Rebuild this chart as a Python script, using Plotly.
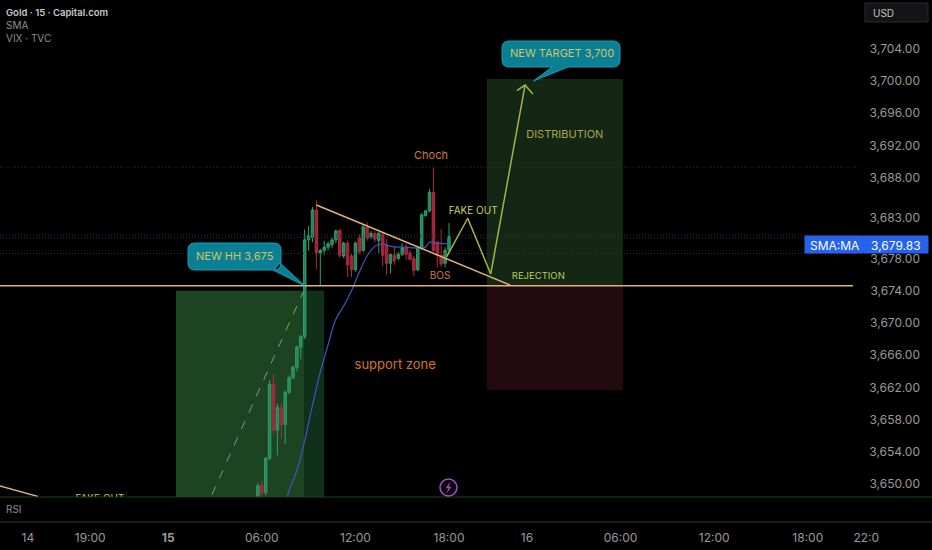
import plotly.graph_objects as go

W, H = 932, 550

# candles: bar number counted from the 15th 00:00 bar, 15 minutes each
bars = list(range(23, 73))
opens = [3647.5, 3649.9, 3649.0, 3653.2, 3662.4, 3656.7, 3659.5, 3657.4, 3661.4, 3663.2,
         3664.5, 3667.0, 3668.3, 3680.3, 3680.6, 3684.0, 3678.7, 3679.0, 3679.4, 3679.7,
         3680.3, 3681.5, 3678.3, 3679.9, 3678.3, 3676.6, 3680.5, 3679.0, 3681.9, 3680.7,
         3681.1, 3680.2, 3681.0, 3679.7, 3677.4, 3678.4, 3678.0, 3678.5, 3679.3, 3678.7,
         3678.0, 3676.6, 3679.3, 3683.3, 3683.9, 3686.2, 3680.0, 3678.4, 3677.4, 3679.05]
highs = [3650.2, 3650.4, 3653.4, 3662.9, 3663.7, 3660.0, 3660.0, 3661.6, 3663.5, 3664.7,
         3667.2, 3668.5, 3681.6, 3682.0, 3684.4, 3685.2, 3679.2, 3680.2, 3680.1, 3680.6,
         3681.6, 3681.6, 3680.1, 3680.2, 3678.6, 3680.1, 3681.0, 3682.2, 3682.5, 3681.4,
         3681.4, 3681.3, 3681.3, 3680.4, 3678.7, 3679.5, 3678.8, 3679.9, 3679.8, 3679.0,
         3678.3, 3679.5, 3683.6, 3684.0, 3686.6, 3689.2, 3680.2, 3681.65, 3679.4, 3682.4]
lows = [3647.0, 3648.0, 3648.6, 3653.0, 3656.1, 3653.6, 3655.7, 3655.0, 3661.2, 3663.0,
        3664.0, 3665.5, 3668.0, 3679.0, 3680.0, 3676.7, 3674.7, 3678.4, 3679.0, 3679.3,
        3679.9, 3678.1, 3678.0, 3675.7, 3675.7, 3676.3, 3678.5, 3678.8, 3680.2, 3680.4,
        3680.0, 3678.7, 3677.0, 3675.9, 3676.1, 3677.2, 3677.8, 3678.3, 3677.8, 3677.7,
        3675.8, 3676.4, 3679.0, 3683.2, 3683.7, 3678.8, 3676.9, 3676.9, 3676.9, 3678.6]
closes = [3649.8, 3648.9, 3653.2, 3662.4, 3656.7, 3659.5, 3657.4, 3661.4, 3663.2, 3664.5,
          3667.0, 3668.3, 3680.3, 3680.8, 3684.0, 3678.7, 3679.0, 3679.4, 3679.8, 3680.3,
          3681.4, 3678.4, 3679.9, 3677.2, 3676.6, 3679.9, 3678.8, 3681.9, 3680.5, 3681.1,
          3680.4, 3681.1, 3678.4, 3677.4, 3678.5, 3677.7, 3678.5, 3679.3, 3678.5, 3677.9,
          3676.5, 3679.3, 3683.4, 3683.9, 3686.2, 3679.0, 3678.4, 3677.3, 3679.0, 3680.7]

ma_bars = [29, 31, 33, 35, 37, 39, 41, 43, 45, 47, 49, 51, 53, 55, 57, 59, 61, 63, 65, 66, 67, 69, 72]
ma_vals = [3645.8, 3649.2, 3651.7, 3655.4, 3659.8, 3663.9, 3667.3, 3670.5, 3672.1, 3674.0, 3676.3, 3678.3,
           3679.5, 3679.8, 3679.5, 3679.4, 3679.4, 3679.3, 3679.3, 3679.4, 3680.0, 3679.9, 3679.8]

price_ticks = [3704, 3700, 3696, 3692, 3688, 3683, 3678, 3674, 3670, 3666, 3662, 3658, 3654, 3650]
price_labels = [f"{p:,.2f}" for p in price_ticks]
time_ticks = [-36, -20, 0, 24, 48, 72, 92, 116, 140, 164, 179]
time_labels = ["14", "19:00", "<b>15</b>", "06:00", "12:00", "18:00", "16", "06:00", "12:00", "18:00", "22:0"]

# drawings
support_level = 3674.6
dotted_levels = [3689.3, 3680.9, 3680.6, 3678.6]
dotted_colors = ["#3a2a2e", "#4a2a36", "#252d52", "#4a2a36"]
trend_bars = [38, 87.7]
trend_vals = [3684.62, 3674.7]
left_bars = [-43.2, -33.4]
left_vals = [3649.8, 3648.5]
dash_bars = [11.2, 34.6]
dash_vals = [3648.7, 3673.8]
path_bars = [71.4, 76.8, 82.7, 91.5, None, 89.4, 91.5, 93.5]
path_vals = [3678.21, 3682.98, 3676.07, 3699.5, None, 3698.8, 3699.5, 3698.4]

label_text = ["Choch", "FAKE OUT", "BOS", "REJECTION", "DISTRIBUTION", "support zone", "FAKE OUT"]
label_bars = [67.4, 78.2, 69.7, 94.9, 101.7, 58.2, -17.5]
label_vals = [3690.7, 3683.8, 3675.8, 3675.8, 3693.3, 3664.7, 3648.1]
label_colors = ["#d0793a", "#cfd06a", "#d0793a", "#b9cc55", "#a9a648", "#d8741f", "#b9cc55"]
label_sizes = [11, 10, 10, 9.5, 11, 13, 10]

FONT = "Inter, Roboto, sans-serif"
X_RANGE = [-43.13, 195.85]
Y_RANGE = [3648.42, 3710.04]


def px(x):
    return x / W


def py(y):
    return 1 - y / H


def callout(x0, y0, x1, y1, tail, r=7):
    # rounded box with a pointer, given in window pixels
    pts = [
        f"M{px(x0 + r)},{py(y0)}", f"L{px(x1 - r)},{py(y0)}",
        f"Q{px(x1)},{py(y0)} {px(x1)},{py(y0 + r)}", f"L{px(x1)},{py(y1 - r)}",
        f"Q{px(x1)},{py(y1)} {px(x1 - r)},{py(y1)}",
    ]
    pts += [f"L{px(tx)},{py(ty)}" for tx, ty in tail]
    pts += [
        f"L{px(x0 + r)},{py(y1)}", f"Q{px(x0)},{py(y1)} {px(x0)},{py(y1 - r)}",
        f"L{px(x0)},{py(y0 + r)}", f"Q{px(x0)},{py(y0)} {px(x0 + r)},{py(y0)}", "Z",
    ]
    return dict(type="path", xref="paper", yref="paper", path=" ".join(pts), layer="above",
                fillcolor="#0b7f93", line=dict(color="#12a0b4", width=1))


def box(x0, y0, x1, y1, color, line=None):
    return dict(type="rect", xref="paper", yref="paper", x0=px(x0), x1=px(x1), y0=py(y0), y1=py(y1),
                fillcolor=color, line=dict(color=line or color, width=1), layer="above")


def zone(b0, b1, p0, p1, color):
    return dict(type="rect", xref="x", yref="y", x0=b0, x1=b1, y0=p0, y1=p1,
                fillcolor=color, line=dict(width=0), layer="below")


def rule(y):
    return dict(type="line", xref="paper", yref="paper", x0=0, x1=1, y0=py(y), y1=py(y),
                line=dict(color="#1c421c", width=1), layer="above")


def note(x, y, text, color, size, anchor="left", weight=None):
    return dict(xref="paper", yref="paper", x=px(x), y=py(y), text=text, showarrow=False,
                xanchor=anchor, yanchor="middle", font=dict(family=FONT, color=color, size=size, weight=weight))


fig = go.Figure()

fig.add_trace(go.Candlestick(
    x=bars, open=opens, high=highs, low=lows, close=closes, whiskerwidth=0, hoverinfo="skip",
    increasing=dict(line=dict(color="#2f9e6e", width=1), fillcolor="#24855a"),
    decreasing=dict(line=dict(color="#b0283c", width=1), fillcolor="#a3243a"),
))
fig.add_trace(go.Scatter(x=ma_bars, y=ma_vals, mode="lines", line=dict(color="#3b56c4", width=1.2, shape="spline")))

for lvl, col in zip(dotted_levels, dotted_colors):
    fig.add_trace(go.Scatter(x=[X_RANGE[0], 177], y=[lvl, lvl], mode="lines", line=dict(color=col, width=1, dash="1px,2px")))

fig.add_trace(go.Scatter(x=dash_bars, y=dash_vals, mode="lines", line=dict(color="#7d9a80", width=1, dash="dash")))
fig.add_trace(go.Scatter(x=[X_RANGE[0], 175.6], y=[support_level, support_level], mode="lines", line=dict(color="#e3b27c", width=1.5)))
fig.add_trace(go.Scatter(x=trend_bars, y=trend_vals, mode="lines", line=dict(color="#e3b27c", width=1.5)))
fig.add_trace(go.Scatter(x=left_bars, y=left_vals, mode="lines", line=dict(color="#e3b27c", width=1.5)))
fig.add_trace(go.Scatter(x=path_bars, y=path_vals, mode="lines", line=dict(color="#a3b545", width=1.5)))
fig.add_trace(go.Scatter(
    x=label_bars, y=label_vals, text=label_text, mode="text", textposition="middle center",
    textfont=dict(family=FONT, color=label_colors, size=label_sizes), cliponaxis=True,
))

bolt = [(450.5, 481.5), (445.5, 488.5), (448.5, 488), (446.5, 493.5), (451.5, 486.5), (448.5, 487)]
bolt_path = "M" + " L".join(f"{px(a)},{py(b)}" for a, b in bolt) + " Z"

shapes = [
    zone(2, 35, 3648.42, 3674.0, "#1c4420"),
    zone(35, 40, 3648.42, 3674.0, "#11301a"),
    zone(81.7, 116.6, 3674.6, 3700.25, "#142614"),
    zone(81.7, 116.6, 3661.7, 3674.6, "#220a0e"),
    rule(497),
    rule(522),
    callout(188, 243, 281, 270, [(280, 263), (305, 286), (273, 270)]),
    callout(502, 41, 620, 67, [(568, 67), (533.5, 81), (552, 67)]),
    box(805, 236, 863, 253, "#2563eb"),
    box(863.5, 236, 928, 253, "#2563eb"),
    box(865, 3, 928, 22, "#141416", "#2a2a2c"),
    dict(type="circle", xref="paper", yref="paper", x0=px(440), x1=px(457), y0=py(496), y1=py(479),
         line=dict(color="#a452c4", width=1.5), fillcolor="#0c0510", layer="above"),
    dict(type="path", xref="paper", yref="paper", path=bolt_path, fillcolor="#a452c4", line=dict(width=0), layer="above"),
]

annotations = [
    note(4, 12, "Gold · 15 · Capital.com", "#c9c9c9", 9.5, weight=600),
    note(4, 25, "SMA", "#8e8e8e", 10),
    note(4, 38, "VIX · TVC", "#8e8e8e", 10),
    note(4, 509, "RSI", "#8e8e8e", 10),
    note(871, 13, "USD", "#c2c2c2", 10),
    note(235, 256, "NEW HH 3,675", "#d0c468", 11, "center"),
    note(562, 53, "NEW TARGET 3,700", "#d0c468", 11, "center"),
    note(834, 245, "SMA:MA", "#ffffff", 12, "center"),
    note(896, 245, "3,679.83", "#ffffff", 12, "center"),
]

fig.update_layout(
    width=W, height=H, margin=dict(l=0, r=0, t=0, b=0), autosize=False, boxgap=0.1,
    paper_bgcolor="#000000", plot_bgcolor="#000000", showlegend=False,
    font=dict(family=FONT, color="#9a9a9a"), shapes=shapes, annotations=annotations,
    xaxis=dict(
        domain=[0, 1], range=X_RANGE, anchor="y", rangeslider=dict(visible=False), showgrid=False, zeroline=False,
        tickmode="array", tickvals=time_ticks, ticktext=time_labels, ticks="outside", ticklen=30, tickcolor="rgba(0,0,0,0)",
        tickfont=dict(family=FONT, size=12, color="#9a9a9a"), showline=False,
    ),
    yaxis=dict(
        domain=[1 - 497 / H, 1], range=Y_RANGE, side="right", anchor="x", showgrid=False, zeroline=False,
        tickmode="array", tickvals=price_ticks, ticktext=price_labels, ticklabelposition="inside", ticks="",
        ticklabelstandoff=9, tickfont=dict(family=FONT, size=12, color="#9a9a9a"),
    ),
)

# the page's default body margin would push the chart 8px in
fig.write_html(
    "out.html",
    config=dict(displayModeBar=False),
    post_script="document.body.style.margin='0';document.body.style.background='#000';document.documentElement.style.overflow='hidden';",
)
